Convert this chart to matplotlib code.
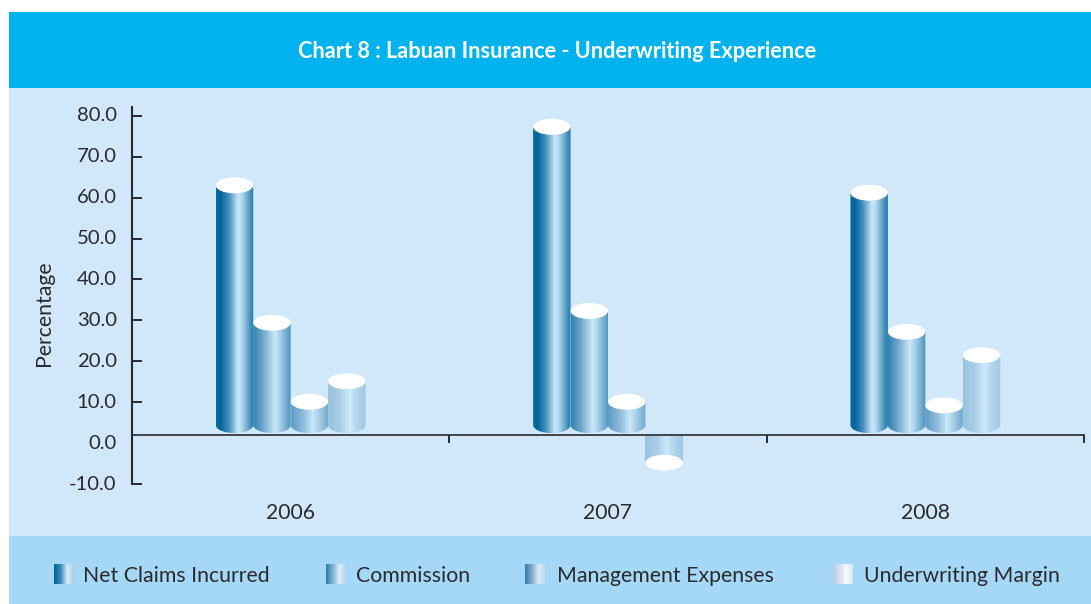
#!/usr/bin/env python3
import numpy as np
import matplotlib
matplotlib.use("Agg")
import matplotlib.pyplot as plt
from matplotlib.colors import LinearSegmentedColormap
from matplotlib.patches import Ellipse, PathPatch, Rectangle
from matplotlib.path import Path

years = ["2006", "2007", "2008"]
series_names = ["Net Claims Incurred", "Commission", "Management Expenses", "Underwriting Margin"]
net_claims = [63.0, 77.3, 61.2]
commission = [29.4, 32.3, 27.2]
mgmt_expenses = [10.1, 10.1, 9.2]
uw_margin = [15.1, -4.8, 21.5]
y_ticks = [80, 70, 60, 50, 40, 30, 20, 10, 0, -10]

W, H = 1091, 604
FONT = "Lato"
TEXT = "#2a2a2c"
plt.rcParams["font.family"] = FONT

grads = [
    [(0, "#0a6da3"), (0.12, "#00659c"), (0.35, "#4c93be"), (0.58, "#c6e6f9"), (0.68, "#b5d9f0"), (0.93, "#3f8bb8"), (1, "#1c7bae")],
    [(0, "#2f82b0"), (0.25, "#6ea5ca"), (0.58, "#c8e8fa"), (0.72, "#a6cfe8"), (1, "#4a93bd")],
    [(0, "#5c9cc6"), (0.3, "#8cb9d9"), (0.58, "#c8e8fa"), (0.75, "#a8cde6"), (1, "#6ea8cf")],
    [(0, "#98c2e0"), (0.3, "#a9cde7"), (0.58, "#cbe9fb"), (0.75, "#b4d6ed"), (1, "#a0c7e4")],
]
swatches = [
    ["#00649b", "#3a8aba", "#d6ecf9", "#a8cdea"],
    ["#2f7fae", "#7fb0d2", "#dbeefa", "#b4d4ec"],
    ["#2f7fae", "#7fa8cc", "#d8e8f6", "#c0d8ee"],
    ["#bccde4", "#d4e0ee", "#f4fafe", "#dce8f4"],
]
swatch_x = [54, 326, 525, 833]
label_x = [83, 356, 557, 864]

fig = plt.figure(figsize=(W / 100, H / 100), dpi=100, facecolor="white")

# page layer in pixel coordinates
bg = fig.add_axes([0, 0, 1, 1])
bg.axis("off")
bg.add_patch(Rectangle((9, 12), W - 9, 76, fc="#00b2ee", ec="none"))
bg.add_patch(Rectangle((9, 88), W - 9, 448, fc="#d0e8f9", ec="none"))
bg.add_patch(Rectangle((9, 536), W - 9, 68, fc="#a5d8f6", ec="none"))
bg.text(557, 51, "Chart 8 : Labuan Insurance - Underwriting Experience", color="white",
        fontsize=15.7, fontweight="bold", ha="center", va="center")
for i, name in enumerate(series_names):
    cmap = LinearSegmentedColormap.from_list("s", swatches[i])
    bg.imshow(np.linspace(0, 1, 64)[None, :], cmap=cmap, aspect="auto", zorder=3,
              extent=[swatch_x[i], swatch_x[i] + 20, 584, 564])
    bg.text(label_x[i], 576.5, name, color=TEXT, fontsize=15.3, ha="left", va="center")
bg.set_xlim(0, W)
bg.set_ylim(H, 0)

# chart axes: 132..1084 px wide, 107..484 px tall
ax = fig.add_axes([132 / W, 1 - 484 / H, (1084 - 132) / W, (484 - 107) / H])
ax.patch.set_alpha(0)
ax.set_xlim(0, 3)
ax.set_ylim(-10, 82.15)

AXIS_Y = 1.9
BASE_Y = 4.4
bar_w = 0.118
ell_h = 3.9


def cylinder(x0, value, grad, zorder):
    x1 = x0 + bar_w
    xc = x0 + bar_w / 2
    if value >= 0:
        t = np.linspace(np.pi, 2 * np.pi, 40)
        arc_x = xc + bar_w / 2 * np.cos(t)
        arc_y = BASE_Y + ell_h / 2 * np.sin(t)
        pts = [(x0, value)] + list(zip(arc_x, arc_y)) + [(x1, value), (x0, value)]
        low, high = BASE_Y - ell_h / 2, value
    else:
        pts = [(x0, AXIS_Y), (x0, value), (x1, value), (x1, AXIS_Y), (x0, AXIS_Y)]
        low, high = value, AXIS_Y
    patch = PathPatch(Path(pts), fc="none", ec="none", transform=ax.transData)
    ax.add_patch(patch)
    cmap = LinearSegmentedColormap.from_list("g", grad)
    im = ax.imshow(np.linspace(0, 1, 128)[None, :], cmap=cmap, aspect="auto",
                   extent=[x0, x1, low, high], zorder=zorder, interpolation="bilinear")
    im.set_clip_path(patch)
    ax.add_patch(Ellipse((xc, value), bar_w, ell_h, fc="white", ec="none", zorder=zorder + 0.5))


all_series = [net_claims, commission, mgmt_expenses, uw_margin]
for g in range(len(years)):
    for s, vals in enumerate(all_series):
        x0 = g + 0.5 - 2 * bar_w + s * bar_w
        cylinder(x0, vals[g], grads[s], 2 + s)
ax.set_xlim(0, 3)
ax.set_ylim(-10, 82.15)

for side in ["top", "right"]:
    ax.spines[side].set_visible(False)
ax.spines["left"].set_linewidth(1.5)
ax.spines["left"].set_color(TEXT)
ax.spines["bottom"].set_position(("data", AXIS_Y))
ax.spines["bottom"].set_linewidth(1.2)
ax.spines["bottom"].set_color(TEXT)
ax.spines["bottom"].set_zorder(10)

ax.set_yticks(y_ticks)
ax.set_yticklabels([f"{v:.1f}" for v in y_ticks], fontsize=14.6, color=TEXT)
ax.tick_params(axis="y", direction="in", length=7.2, width=1.4, color=TEXT, pad=11)
ax.yaxis.get_major_ticks()[y_ticks.index(0)].tick1line.set_visible(False)
for t in ax.get_yticklabels():
    t.set_verticalalignment("center")
ax.set_xticks([1, 2, 3])
ax.set_xticklabels([])
ax.tick_params(axis="x", direction="out", length=6, width=1.4, color=TEXT)
for g, year in enumerate(years):
    ax.text(g + 0.5, -17.2, year, fontsize=15.2, color=TEXT, ha="center", va="center", clip_on=False)
bg.text(44, 313, "Percentage", rotation=90, fontsize=15.3, color=TEXT, ha="center", va="center")

fig.savefig("out.png", dpi=100)
